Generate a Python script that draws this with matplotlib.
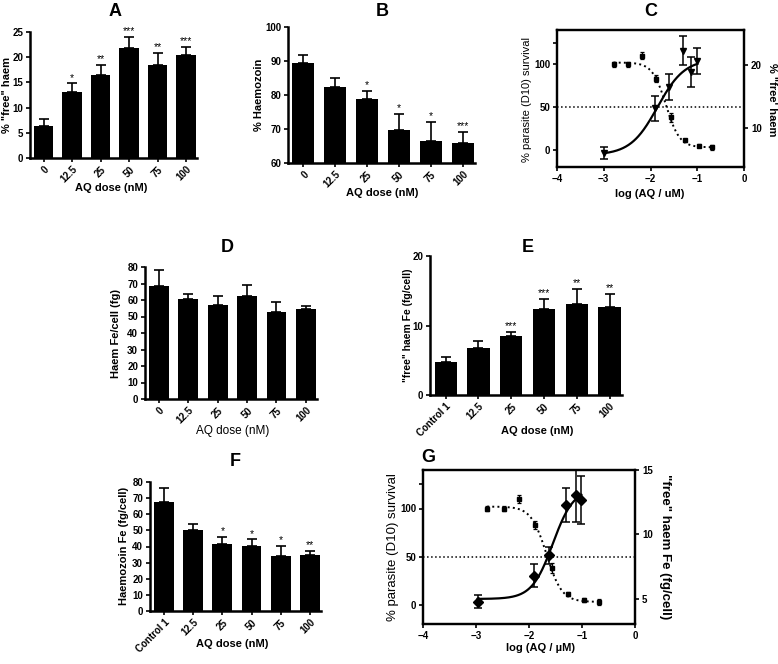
import numpy as np
import matplotlib.pyplot as plt

plt.rcParams['font.family'] = ['Liberation Sans', 'DejaVu Sans']

W, H = 778, 664

# bar panels: doses on the x axis
doses = ['0', '12.5', '25', '50', '75', '100']
doses_ctrl = ['Control 1', '12.5', '25', '50', '75', '100']

# A: % "free" haem
free_pct = [6.4, 13.0, 16.4, 21.8, 18.5, 20.5]
free_pct_err = [1.4, 1.8, 2.1, 2.2, 2.4, 1.6]
free_pct_sig = ['', '*', '**', '***', '**', '***']

# B: % haemozoin
hz_pct = [89.3, 82.4, 78.8, 69.8, 66.5, 65.8]
hz_pct_err = [2.6, 2.6, 2.5, 4.7, 5.5, 3.3]
hz_pct_sig = ['', '', '*', '*', '*', '***']

# D: haem Fe per cell
haem_fe = [68.7, 60.8, 56.8, 62.2, 52.7, 54.3]
haem_fe_err = [9.3, 2.8, 5.4, 6.7, 6.1, 2.3]

# E: "free" haem Fe per cell
free_fe = [4.7, 6.8, 8.5, 12.4, 13.1, 12.7]
free_fe_err = [0.7, 0.9, 0.6, 1.4, 2.2, 1.8]
free_fe_sig = ['', '', '***', '***', '**', '**']

# F: haemozoin Fe per cell
hz_fe = [67.4, 50.4, 41.5, 40.4, 34.2, 34.8]
hz_fe_err = [8.7, 3.3, 4.3, 4.0, 6.2, 2.5]
hz_fe_sig = ['', '', '*', '*', '*', '**']

# C / G: parasite survival (left axis)
log_aq_surv = [-2.79, -2.48, -2.19, -1.88, -1.57, -1.27, -0.97, -0.68]
survival = [100, 100, 110, 83, 38, 11, 5, 3]
survival_err = [3, 3, 4, 4, 5, 2, 2, 3]
surv_fit = dict(top=102, bottom=3, mid=-1.67, slope=-3.0)

# C: % "free" haem (right axis)
log_aq_c = [-2.99, -1.91, -1.60, -1.31, -1.13, -1.00]
free_c = [6.1, 13.2, 16.6, 22.3, 19.0, 20.7]
free_c_err = [1.0, 2.0, 2.1, 2.3, 2.4, 2.0]
free_c_fit = dict(top=21.0, bottom=5.8, mid=-1.85, slope=1.5)

# G: "free" haem Fe (right axis)
log_aq_g = [-2.97, -1.91, -1.62, -1.30, -1.12, -1.01]
free_g = [4.8, 6.8, 8.4, 12.3, 13.1, 12.7]
free_g_err = [0.5, 0.9, 0.65, 1.3, 2.15, 1.85]
free_g_fit = dict(top=13.6, bottom=5.0, mid=-1.55, slope=2.2)


def box(l, t, r, b):
    return [l / W, 1 - b / H, (r - l) / W, (b - t) / H]


def hill(x, top, bottom, mid, slope):
    return bottom + (top - bottom) / (1 + 10 ** ((mid - x) * slope))


def place_label(axis, px, py):
    # put an axis label centre at a pixel position of the figure
    axis.set_label_coords(px / W, 1 - py / H, transform=fig.transFigure)
    axis.label.set_va('center')
    axis.label.set_ha('center')


def bar_panel(ax, labels, vals, errs, sig, ylim, yticks, ylabel, ylab_pos, xlab_pos,
              xbold=True, ylab_size=8):
    x = np.arange(len(vals))
    ax.bar(x, vals, width=0.68, color='black')
    ax.errorbar(x, vals, yerr=[np.zeros(len(vals)), errs], fmt='none',
                ecolor='black', elinewidth=1.2, capsize=3.5, capthick=1.2)
    if sig:
        for xi, v, e, s in zip(x, vals, errs, sig):
            if s:
                ax.annotate(s, (xi, v + e), xytext=(0, 0.5), textcoords='offset points',
                            ha='center', va='bottom', fontsize=7.5)
    ax.set_xlim(-0.48, 5.38)
    ax.set_ylim(ylim)
    ax.set_yticks(yticks)
    ax.set_xticks(x)
    ax.set_xticklabels(labels, rotation=45, ha='right', rotation_mode='anchor')
    for s in ['top', 'right']:
        ax.spines[s].set_visible(False)
    for s in ['left', 'bottom']:
        ax.spines[s].set_linewidth(1.8)
    ax.tick_params(direction='out', length=3, width=1.2, labelsize=7, pad=2)
    ax.tick_params(axis='x', pad=1.5)
    for t in ax.get_xticklabels() + ax.get_yticklabels():
        t.set_fontweight('bold')
    ax.set_ylabel(ylabel, fontsize=ylab_size, fontweight='bold')
    place_label(ax.yaxis, *ylab_pos)
    ax.set_xlabel('AQ dose (nM)', fontsize=8 if xbold else 8.5,
                  fontweight='bold' if xbold else 'normal')
    place_label(ax.xaxis, *xlab_pos)


def curve_panel(ax, xr, yr, yerr, fit, marker, ms, ylabel_r, rylim, rticks, xlabel,
                lab_size, ylab_pos, rlab_pos, xlab_pos):
    # survival on the left axis
    ax.errorbar(log_aq_surv, survival, yerr=survival_err, fmt='s', color='black',
                ms=2.5, elinewidth=0.9, capsize=1.5, capthick=0.9)
    xs = np.linspace(log_aq_surv[0], log_aq_surv[-1], 200)
    ax.plot(xs, hill(xs, **surv_fit), ':', color='black', lw=1.4)
    ax.axhline(50, ls=':', color='black', lw=1.1)
    ax.set_xlim(-4, 0)
    ax.set_ylim(-20, 140)
    ax.set_xticks([-4, -3, -2, -1, 0])
    ax.set_yticks([0, 50, 100])
    ax.set_yticks([125], minor=True)
    ax.set_ylabel('% parasite (D10) survival', fontsize=lab_size)
    place_label(ax.yaxis, *ylab_pos)
    ax.set_xlabel(xlabel, fontsize=8, fontweight='bold')
    place_label(ax.xaxis, *xlab_pos)
    for s in ax.spines.values():
        s.set_linewidth(1.6)
    ax.tick_params(direction='out', length=3, width=1.2, labelsize=7, pad=2)
    ax.tick_params(which='minor', direction='out', length=3, width=1.2)
    for t in ax.get_xticklabels() + ax.get_yticklabels():
        t.set_fontweight('bold')

    # free haem on the right axis
    ar = ax.twinx()
    ar.errorbar(xr, yr, yerr=yerr, fmt=marker, color='black', ms=ms,
                elinewidth=1.1, capsize=3, capthick=1.1)
    xs = np.linspace(xr[0], xr[-1], 200)
    ar.plot(xs, hill(xs, **fit), '-', color='black', lw=1.6)
    ar.set_ylim(rylim)
    ar.set_yticks(rticks)
    ar.tick_params(direction='out', length=3, width=1.2, labelsize=7, pad=2)
    for t in ar.get_yticklabels():
        t.set_fontweight('bold')
    ar.set_ylabel(ylabel_r, fontsize=lab_size, fontweight='bold', rotation=270)
    place_label(ar.yaxis, *rlab_pos)
    for s in ar.spines.values():
        s.set_linewidth(1.6)
    return ar


fig = plt.figure(figsize=(W / 100, H / 100), dpi=100)

axA = fig.add_axes(box(30, 32, 197, 158))
bar_panel(axA, doses, free_pct, free_pct_err, free_pct_sig, (0, 25),
          [0, 5, 10, 15, 20, 25], '% "free" haem', (7, 95), (111, 188))

axB = fig.add_axes(box(288, 27, 475, 163))
bar_panel(axB, doses, hz_pct, hz_pct_err, hz_pct_sig, (60, 100),
          [60, 70, 80, 90, 100], '% Haemozoin', (259, 95), (382, 193))

axC = fig.add_axes(box(557, 30, 744, 167))
curve_panel(axC, log_aq_c, free_c, free_c_err, free_c_fit, 'v', 5,
            '% "free\' haem', (3.9, 25.6), [10, 20], 'log (AQ / uM)',
            8, (527, 100), (772, 100), (650, 194))

axD = fig.add_axes(box(145, 267, 317, 399))
bar_panel(axD, doses, haem_fe, haem_fe_err, None, (0, 80),
          list(range(0, 81, 10)), 'Haem Fe/cell (fg)', (116, 333), (233, 431), xbold=False)

axE = fig.add_axes(box(430, 256, 622, 395))
bar_panel(axE, doses_ctrl, free_fe, free_fe_err, free_fe_sig, (0, 20),
          [0, 10, 20], '"free" haem Fe (fg/cell)', (408, 325), (537, 431), ylab_size=7.5)

axF = fig.add_axes(box(150, 482, 321, 611))
bar_panel(axF, doses_ctrl, hz_fe, hz_fe_err, hz_fe_sig, (0, 80),
          list(range(0, 81, 10)), 'Haemozoin Fe (fg/cell)', (124, 546), (232, 644))

axG = fig.add_axes(box(423, 470, 635, 624))
curve_panel(axG, log_aq_g, free_g, free_g_err, free_g_fit, 'D', 5,
            '"free" haem Fe (fg/cell)', (3.06, 15), [5, 10, 15], 'log (AQ / µM)',
            9.5, (393, 547), (665, 547), (540, 648))

letters = [('A', 115, 12), ('B', 382, 11), ('C', 651, 11), ('D', 227, 248),
           ('E', 528, 248), ('F', 235, 462), ('G', 428, 457)]
for txt, px, py in letters:
    fig.text(px / W, 1 - py / H, txt, fontsize=13, fontweight='bold',
             ha='center', va='center')

fig.savefig('out.png', dpi=100)
